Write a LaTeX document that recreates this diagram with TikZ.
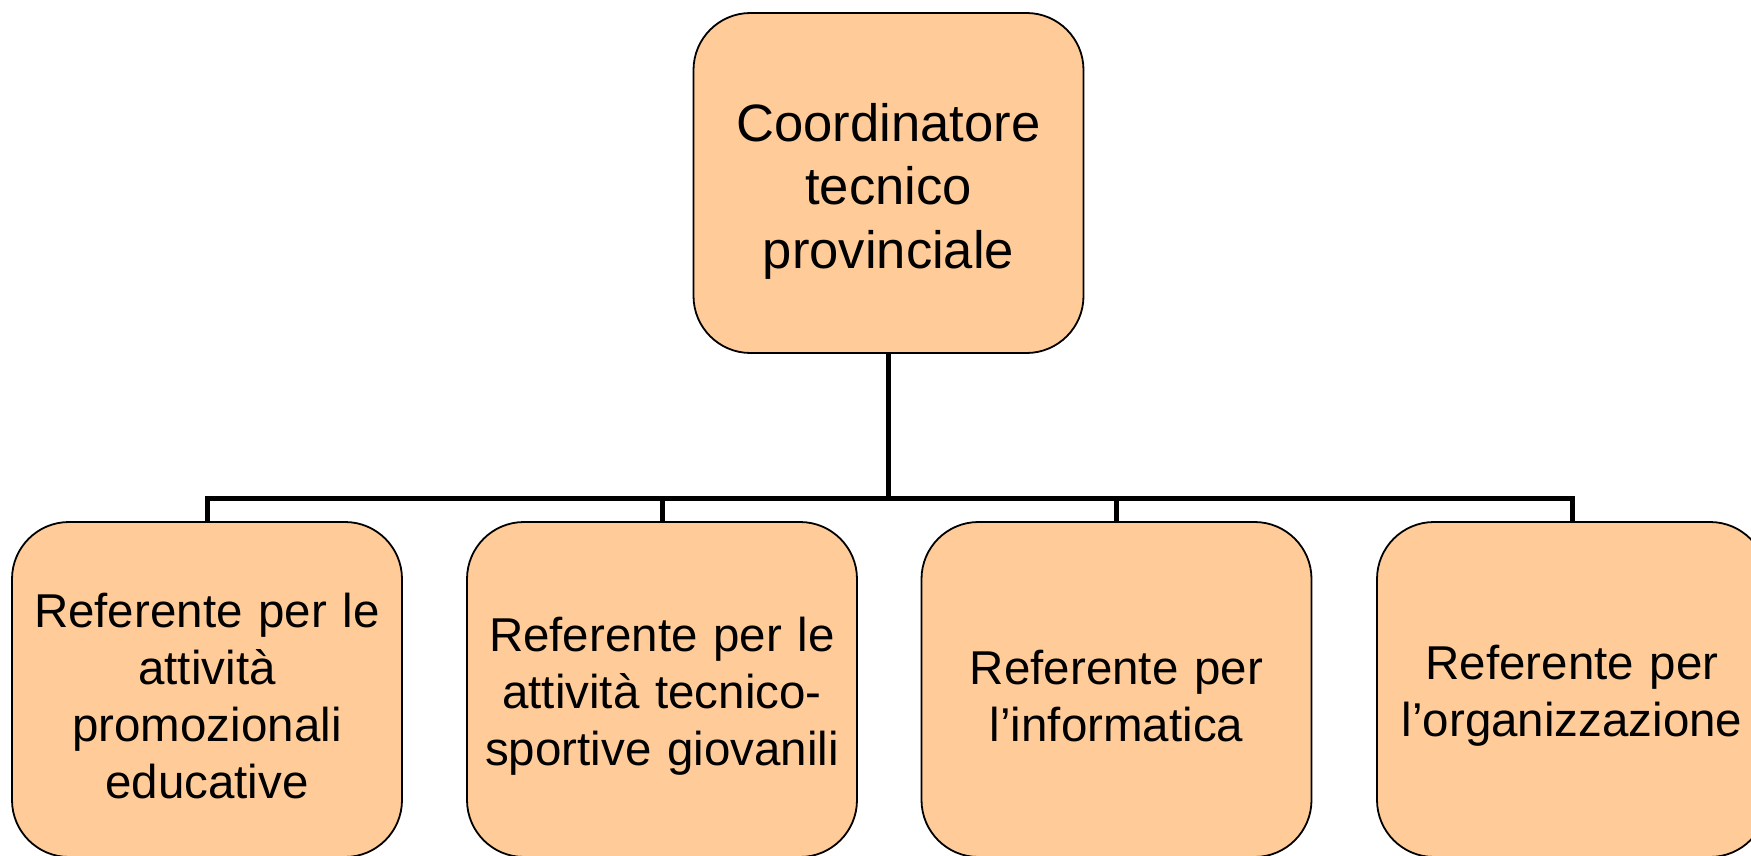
\documentclass[tikz,border=0pt]{standalone}
\usepackage{fontspec}
\setmainfont{Liberation Sans}
\usetikzlibrary{backgrounds}
\definecolor{peach}{RGB}{255,204,153}
\newcommand{\topstrut}{\rule{0pt}{54pt}}
\newcommand{\substrut}{\rule{0pt}{47pt}}
\tikzset{
  orgbox/.style={draw=black, line width=1.8pt, fill=peach, rounded corners=57pt,
    minimum width=390pt, inner sep=0pt, align=center, text width=385pt},
  topbox/.style={orgbox, minimum height=340pt,
    font=\fontsize{52.6pt}{63.5pt}\selectfont},
  subbox/.style={orgbox, minimum height=335pt,
    font=\fontsize{47.5pt}{57pt}\selectfont},
  link/.style={draw=black, line width=5pt}
}
\begin{document}
\begin{tikzpicture}[x=1pt,y=-1pt]
\useasboundingbox (0,0) rectangle (1751,856);
\clip (0,0) rectangle (1751,856);
\node[topbox] (top) at (888.5,183) {\topstrut Coordinatore\\tecnico\\provinciale};
\node[subbox] (b1) at (207,689.5) {\substrut Referente per le\\attività\\promozionali\\educative};
\node[subbox] (b2) at (662,689.5) {\substrut Referente per le\\attività tecnico-\\sportive giovanili};
\node[subbox] (b3) at (1116.5,689.5) {\substrut Referente per\\l’informatica};
\node[subbox] (b4) at (1572,689.5) {\substrut Referente per\\l’organizzazione};
\coordinate (j) at (888.5,498);
\begin{scope}[on background layer]
\path[link] (top.south) -- (j);
\path[link] (b1.north) |- (j) -| (b4.north);
\path[link] (b2.north) -- (b2.north |- j);
\path[link] (b3.north) -- (b3.north |- j);
\end{scope}
\end{tikzpicture}
\end{document}
